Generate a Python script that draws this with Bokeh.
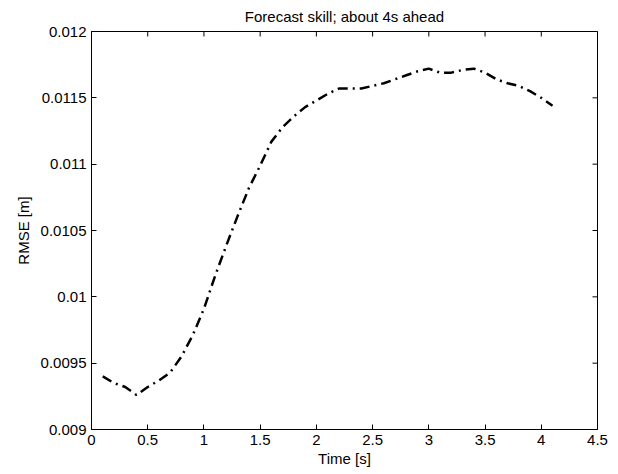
from bokeh.plotting import figure
from bokeh.models import FixedTicker, Range1d
from bokeh.embed import file_html
from bokeh.resources import INLINE
import math

time_s = [0.1, 0.2, 0.3, 0.4, 0.5, 0.6, 0.7, 0.8, 0.9, 1.0,
          1.1, 1.2, 1.3, 1.4, 1.5, 1.6, 1.7, 1.8, 1.9, 2.0,
          2.1, 2.2, 2.3, 2.4, 2.5, 2.6, 2.7, 2.8, 2.9, 3.0,
          3.1, 3.2, 3.3, 3.4, 3.5, 3.6, 3.7, 3.8, 3.9, 4.0, 4.1]
rmse = [0.00940, 0.00935, 0.00932, 0.00926, 0.00932, 0.00937, 0.00943, 0.00955, 0.00971, 0.00991,
        0.01016, 0.01039, 0.01061, 0.01082, 0.01099, 0.01117, 0.01128, 0.01136, 0.01143, 0.01148,
        0.01153, 0.01157, 0.01157, 0.01157, 0.01159, 0.01161, 0.01164, 0.01167, 0.01170, 0.01172,
        0.01169, 0.01169, 0.01171, 0.01172, 0.01169, 0.01164, 0.01161, 0.01159, 0.01155, 0.01150, 0.01144]

x_ticks = [0, 0.5, 1, 1.5, 2, 2.5, 3, 3.5, 4, 4.5]
x_tick_labels = ["0", "0.5", "1", "1.5", "2", "2.5", "3", "3.5", "4", "4.5"]
y_ticks = [0.009, 0.0095, 0.01, 0.0105, 0.011, 0.0115, 0.012]
y_tick_labels = ["0.009", "0.0095", "0.01", "0.0105", "0.011", "0.0115", "0.012"]

x_min, x_max = 0, 4.5
y_min, y_max = 0.009, 0.012

FONT = "Liberation Sans"
FS = "15px"

p = figure(width=618, height=474, output_backend="svg", toolbar_location=None,
           x_range=Range1d(x_min, x_max), y_range=Range1d(y_min, y_max),
           min_border_left=91, min_border_right=21, min_border_top=31, min_border_bottom=45,
           title="Forecast skill; about 4s ahead")
p.title.align = "center"
p.title.vertical_align = "top"
p.title.text_font = FONT
p.title.text_font_size = FS
p.title.text_font_style = "normal"
p.title.text_color = "black"

p.grid.visible = False
p.outline_line_color = "black"
p.outline_line_width = 1
p.background_fill_color = "white"
p.border_fill_color = "white"

for ax in (p.xaxis[0], p.yaxis[0]):
    ax.major_tick_in = 5
    ax.major_tick_out = 0
    ax.minor_tick_in = 0
    ax.minor_tick_out = 0
    ax.axis_line_color = "black"
    ax.major_tick_line_color = "black"
    ax.major_label_text_font = FONT
    ax.major_label_text_font_size = FS
    ax.major_label_text_color = "black"
    ax.major_label_standoff = 5
    ax.axis_label_text_font = FONT
    ax.axis_label_text_font_size = FS
    ax.axis_label_text_font_style = "normal"
    ax.axis_label_text_color = "black"

p.xaxis.ticker = FixedTicker(ticks=x_ticks)
p.xaxis.major_label_overrides = dict(zip(x_ticks, x_tick_labels))
p.yaxis.ticker = FixedTicker(ticks=y_ticks)
p.yaxis.major_label_overrides = dict(zip(y_ticks, y_tick_labels))
p.xaxis.axis_label = "Time [s]"
p.yaxis.axis_label = "RMSE [m]"
p.xaxis.axis_label_standoff = 2
p.yaxis.axis_label_standoff = 6

# inward ticks on the top and right edges of the box (half of each marker is clipped by the frame)
p.scatter(x_ticks, [y_max] * len(x_ticks), marker="dash", angle=math.pi / 2, size=10,
          line_color="black", line_width=1)
p.scatter([x_max] * len(y_ticks), y_ticks, marker="dash", size=10,
          line_color="black", line_width=1)

p.line(time_s, rmse, line_color="black", line_width=2.5, line_dash="10 5 2 5")

open("out.html", "w").write(file_html(p, INLINE))
